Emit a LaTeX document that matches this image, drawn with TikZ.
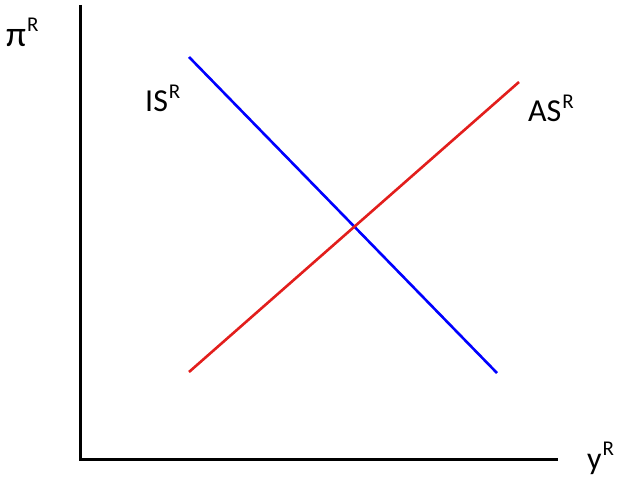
\documentclass[tikz,border=0pt]{standalone}
\usepackage{fontspec}
\setmainfont{Carlito}
\definecolor{asred}{RGB}{226,30,28}
\newcommand{\rsup}{\kern1pt\raisebox{0.42em}{\fontsize{21pt}{21pt}\selectfont R}}

\begin{document}
\begin{tikzpicture}[x=1pt,y=-1pt,
  lbl/.style={anchor=base west,inner sep=0pt,font=\fontsize{32pt}{32pt}\selectfont}]

\useasboundingbox (0,0) rectangle (617,481);

% axes
\coordinate (top) at (80,5);
\coordinate (origin) at (80,459);
\coordinate (right) at (558,459);
\draw[line width=3pt] (top) -- (origin) -- (right);

% curves
\coordinate (isA) at (189,57);
\coordinate (isB) at (497,373);
\coordinate (asA) at (189,372);
\coordinate (asB) at (519,82);
\draw[line width=2.6pt,blue] (isA) -- (isB);  % IS
\draw[line width=2.6pt,asred] (asA) -- (asB); % AS

\node[lbl] (pi) at (6,47) {\fontsize{36pt}{36pt}\selectfont π\rsup};
\node[lbl] (is) at (145,112) {IS\rsup};
\node[lbl] (as) at (528,122) {AS\rsup};
\node[lbl] (y) at (587,469) {y\rsup};

\end{tikzpicture}
\end{document}
